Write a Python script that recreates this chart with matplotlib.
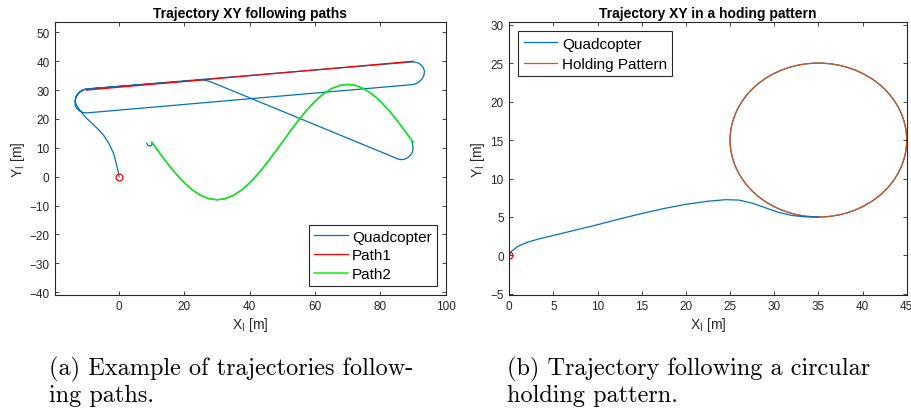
import matplotlib.pyplot as plt
from matplotlib.patches import Circle
from matplotlib.lines import Line2D

plt.rcParams['font.family'] = ['Liberation Sans', 'DejaVu Sans']

# ---- data, left panel ----
path1_x = [-10, 90]
path1_y = [30, 40]

path2_x = [10, 12.5, 15, 17.5, 20, 22.5, 25, 27.5, 30, 32.5, 35, 37.5, 40,
           42.5, 45, 47.5, 50, 52.5, 55, 57.5, 60, 62.5, 65, 67.5, 70,
           72.5, 75, 77.5, 80, 82.5, 85, 87.5, 90]
path2_y = [12, 8.1, 4.35, 0.89, -2.14, -4.63, -6.48, -7.62, -8, -7.62, -6.48,
           -4.63, -2.14, 0.89, 4.35, 8.1, 12, 15.9, 19.65, 23.11, 26.14,
           28.63, 30.48, 31.62, 32, 31.62, 30.48, 28.63, 26.14, 23.11,
           19.65, 15.9, 12]

# quadcopter: start, loop, along path1, turn, back, loop, diagonal, turn
quad1_x = [0, -0.3, -0.9, -1.7, -3.1, -4.8, -6.6, -8.4, -9.8, -10.9, -11.9,
           -12.6, -13.2, -13.4, -13.2, -12.6, -11.7, -10.8, -9.9,
           90.2, 91.4, 92.4, 93.2, 93.5, 93.3, 92.7, 91.7, 90.6, 89.7,
           -9.9, -11.1, -12.1, -12.9, -13.4, -13.5, -13.3, -12.8, -12.0,
           -11.0, -10.0,
           25.3, 26.4, 27.8, 83.6, 85.0, 86.1, 87.3, 88.4, 89.3, 89.8, 90.0,
           89.9, 89.7]
quad1_y = [0, 2.0, 4.8, 8.2, 11.5, 14.5, 16.7, 18.6, 20.1, 21.5, 22.9,
           24.0, 25.2, 26.4, 27.7, 28.8, 29.7, 30.2, 30.4,
           39.8, 39.5, 38.8, 37.7, 36.5, 35.0, 33.8, 32.7, 32.1, 31.9,
           22.1, 22.3, 22.8, 23.6, 24.6, 25.8, 27.1, 28.3, 29.3,
           30.0, 30.4,
           33.5, 33.4, 33.0, 7.0, 6.3, 5.9, 6.0, 6.6, 7.5, 8.6, 9.7,
           11.0, 12.2]
# small hook at the end of path2
hook_x = [10, 10.2, 9.6, 8.8, 8.5]
hook_y = [12, 11.2, 10.6, 10.8, 11.6]

# ---- data, right panel ----
quad2_x = [0, 0.26, 1, 2, 3.5, 5, 7.5, 10, 12.5, 15, 17.5, 20, 22.5, 24.5,
           26, 27.5, 29, 30.5, 32, 33.5, 35]
quad2_y = [0, 0.56, 1.2, 1.7, 2.2, 2.6, 3.3, 4.0, 4.75, 5.45, 6.1, 6.65, 7.05,
           7.25, 7.2, 6.8, 6.2, 5.6, 5.2, 5.02, 5]
hold_center = (35, 15)
hold_radius = 10

blue = '#0072BD'
orange = '#D95319'
green = '#11ee11'
gray = '#262626'


def style(ax):
    for s in ax.spines.values():
        s.set_color(gray)
        s.set_linewidth(0.8)
    ax.tick_params(direction='in', top=True, right=True, length=3,
                   width=0.6, colors=gray, labelsize=8.5, pad=4)
    ax.set_xlabel('X$_\\mathregular{I}$ [m]', fontsize=10, color=gray, labelpad=2)
    ax.set_ylabel('Y$_\\mathregular{I}$ [m]', fontsize=10, color=gray, labelpad=2)


fig = plt.figure(figsize=(9.12, 4.14), dpi=100)
ax1 = fig.add_axes([0.0603, 0.2857, 0.4284, 0.658])
ax2 = fig.add_axes([0.5584, 0.2857, 0.4358, 0.658])

# left panel
qx = quad1_x + path2_x[::-1] + hook_x
qy = quad1_y + path2_y[::-1] + hook_y
ax1.plot(qx, qy, color=blue, lw=0.9, label='Quadcopter')
ax1.plot(path1_x, path1_y, color='red', lw=0.9, label='Path1')
ax1.plot(path2_x, path2_y, color=green, lw=1.1, label='Path2')
ax1.plot([0], [0], 'o', mfc='none', mec='red', ms=5, mew=0.9)
ax1.set_xlim(-19.6, 100)
ax1.set_ylim(-40.9, 53.5)
ax1.set_xticks(range(0, 101, 20))
ax1.set_yticks(range(-40, 51, 10))
ax1.set_title('Trajectory XY following paths', fontsize=10, fontweight='bold',
              color='black', pad=4)
style(ax1)
leg = ax1.legend(loc='lower right', fontsize=11, fancybox=False, framealpha=1,
                 edgecolor=gray, borderaxespad=0.6, handlelength=2.2,
                 handletextpad=0.3, labelspacing=0.3, borderpad=0.3)
leg.get_frame().set_linewidth(0.8)

# right panel
ax2.plot(quad2_x, quad2_y, color=blue, lw=0.9)
ax2.add_patch(Circle(hold_center, hold_radius, fill=False, ec=blue, lw=0.9))
ax2.add_patch(Circle(hold_center, hold_radius, fill=False, ec=orange, lw=0.9))
ax2.plot([0], [0], 'o', mfc='none', mec='red', ms=5, mew=0.9)
ax2.set_xlim(0, 45)
ax2.set_ylim(-5.1, 30.3)
ax2.set_xticks(range(0, 46, 5))
ax2.set_yticks(range(-5, 31, 5))
ax2.set_title('Trajectory XY in a hoding pattern', fontsize=10,
              fontweight='bold', color='black', pad=4)
style(ax2)
handles = [Line2D([], [], color=blue, lw=0.9),
           Line2D([], [], color=orange, lw=0.9)]
leg2 = ax2.legend(handles, ['Quadcopter', 'Holding Pattern'], loc='upper left',
                  fontsize=11, fancybox=False, framealpha=1, edgecolor=gray,
                  borderaxespad=0.6, handlelength=2.2, handletextpad=0.3,
                  labelspacing=0.4, borderpad=0.35)
leg2.get_frame().set_linewidth(0.8)

# captions
cap = dict(fontsize=17.5, family=['cmr10', 'DejaVu Serif'], va='baseline')
fig.text(49 / 912, 1 - 375 / 414, '(a) Example of trajectories follow-', **cap)
fig.text(49 / 912, 1 - 402 / 414, 'ing paths.', **cap)
fig.text(507 / 912, 1 - 375 / 414, '(b) Trajectory following a circular', **cap)
fig.text(507 / 912, 1 - 402 / 414, 'holding pattern.', **cap)

fig.savefig('out.png', dpi=100)
